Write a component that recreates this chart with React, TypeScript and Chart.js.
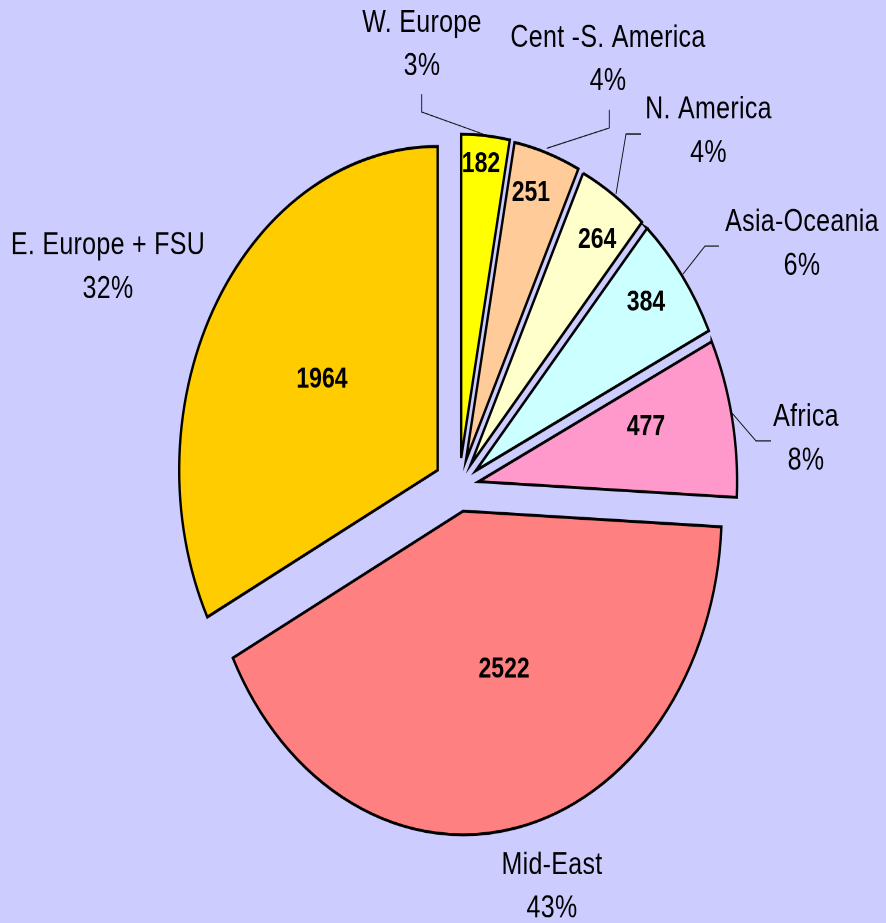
import React, { useEffect, useRef } from 'react';
import { Chart, registerables } from 'chart.js';

Chart.register(...registerables);

// ---- data ----
const categories = ['W. Europe', 'Cent -S. America', 'N. America', 'Asia-Oceania', 'Africa', 'Mid-East', 'E. Europe + FSU'];
const values = [182, 251, 264, 384, 477, 2522, 1964];
const percentLabels = ['3%', '4%', '4%', '6%', '8%', '43%', '32%'];

// ---- styles ----
const colors = ['#FFFF00', '#FFCC99', '#FFFFCC', '#CCFFFF', '#FF99CC', '#FF8080', '#FFCC00'];
const BG = '#CCCCFF';

// ---- layout (the original picture is stretched vertically) ----
const W = 886;
const H_CSS = 923;
const H = 737;
const RADIUS = 258.5;
const LINE = 34.8;
const explodeDist = [23, 22, 21, 21, 20, 20, 25];
// value label: [fraction of radius, angle delta in degrees]
const valuePos: [number, number][] = [
  [0.911, -0.6], [0.864, -1.4], [0.849, 1.55], [0.838, -1.15], [0.669, -3.2], [0.515, -5.8], [0.528, 0.5],
];
// name label baseline relative to pie centre
const namePos: [number, number][] = [
  [-37, -363.2], [149, -351.2], [249.5, -294], [343, -204], [347, -48.3], [93, 309.4], [-351, -185.4],
];
const leaders: ([number, number][] | null)[] = [
  [[-37.3, -313.4], [-37.3, -299.1], [24, -281.5]],
  [[150.3, -300.7], [150.3, -286.3], [87.7, -270.1]],
  [[182, -281.5], [167, -281.5], [157, -233.6]],
  [[260, -192.1], [246, -192.1], [224, -169.7]],
  [[273, -58.7], [297, -36.4], [312, -36.4]],
  null,
  null,
];

const FONT = '"Liberation Sans", Arial, sans-serif';

const explodePlugin = {
  id: 'explodeSlices',
  beforeDatasetDraw(chart: any, args: any) {
    const ctx = chart.ctx;
    args.meta.data.forEach((el: any, i: number) => {
      const mid = (el.startAngle + el.endAngle) / 2;
      const d = explodeDist[i] || 0;
      ctx.save();
      ctx.translate(Math.cos(mid) * d, Math.sin(mid) * d);
      el.draw(ctx);
      ctx.restore();
    });
    return false;
  },
};

const labelPlugin = {
  id: 'sliceLabels',
  afterDatasetsDraw(chart: any) {
    const ctx = chart.ctx;
    const meta = chart.getDatasetMeta(0);
    if (!meta.data.length) return;
    const cx = meta.data[0].x;
    const cy = meta.data[0].y;
    ctx.save();
    ctx.strokeStyle = '#111';
    ctx.lineWidth = 0.9;
    leaders.forEach((pts) => {
      if (!pts) return;
      ctx.beginPath();
      pts.forEach(([x, y], k) => (k ? ctx.lineTo(cx + x, cy + y) : ctx.moveTo(cx + x, cy + y)));
      ctx.stroke();
    });
    ctx.fillStyle = '#000';
    ctx.textAlign = 'center';
    ctx.textBaseline = 'alphabetic';
    ctx.font = `25px ${FONT}`;
    try { (ctx as any).letterSpacing = '0.3px'; } catch (e) { /* ignore */ }
    categories.forEach((c, i) => {
      const [dx, dy] = namePos[i];
      ctx.fillText(c, cx + dx, cy + dy);
      ctx.fillText(percentLabels[i], cx + dx, cy + dy + LINE);
    });
    try { (ctx as any).letterSpacing = '0px'; } catch (e) { /* ignore */ }
    ctx.font = `bold 23px ${FONT}`;
    ctx.textBaseline = 'middle';
    meta.data.forEach((el: any, i: number) => {
      const mid = (el.startAngle + el.endAngle) / 2;
      const d = explodeDist[i] || 0;
      const ox = el.x + Math.cos(mid) * d;
      const oy = el.y + Math.sin(mid) * d;
      const a = mid + (valuePos[i][1] * Math.PI) / 180;
      const r = el.outerRadius * valuePos[i][0];
      ctx.fillText(String(values[i]), ox + Math.cos(a) * r, oy + Math.sin(a) * r);
    });
    ctx.restore();
  },
};

export default function App() {
  const ref = useRef<HTMLCanvasElement>(null);
  useEffect(() => {
    const canvas = ref.current;
    if (!canvas) return;
    const chart = new Chart(canvas, {
      type: 'pie',
      data: {
        labels: categories,
        datasets: [
          {
            data: values,
            backgroundColor: colors,
            borderColor: '#000',
            borderWidth: 2.4,
            borderJoinStyle: 'miter',
          } as any,
        ],
      },
      options: {
        responsive: false,
        animation: false,
        devicePixelRatio: 2,
        radius: RADIUS,
        events: [],
        layout: { padding: { left: 32, right: 0, top: 40, bottom: 0 } },
        plugins: { legend: { display: false }, tooltip: { enabled: false } },
      } as any,
      plugins: [explodePlugin, labelPlugin],
    });
    return () => chart.destroy();
  }, []);
  return (
    <div style={{ position: 'fixed', left: 0, top: 0, width: W, height: H_CSS, background: BG, overflow: 'hidden' }}>
      <canvas ref={ref} width={W} height={H} style={{ width: `${W}px`, height: `${H_CSS}px`, display: 'block' }} />
    </div>
  );
}
